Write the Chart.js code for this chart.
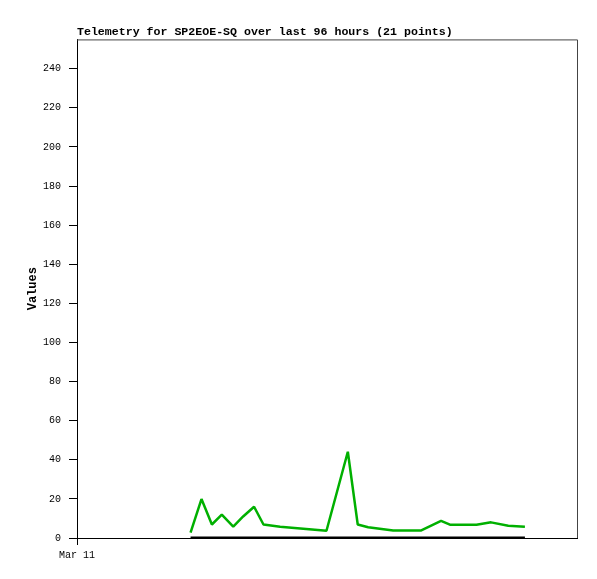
<!DOCTYPE html>
<html>
<head>
<meta charset="utf-8">
<script src="https://cdn.jsdelivr.net/npm/chart.js@4"></script>
<style>
  html, body { margin: 0; padding: 0; background: #fff; }
  #wrap { width: 597px; height: 579px; }
</style>
</head>
<body>
<div id="wrap"><canvas id="c" width="597" height="579"></canvas></div>
<script>
// Hours since Mar 11 00:00 (axis spans 96 hours)
const hours = [21.8, 23.9, 25.9, 27.8, 30.0, 31.9, 34.0, 35.8, 39.0, 47.9, 52.0,
               53.9, 55.9, 60.7, 66.0, 69.9, 71.6, 76.7, 79.5, 82.8, 86.0];
const telemetry = [2.7, 19.9, 6.9, 11.9, 5.8, 11.0, 16.0, 6.9, 5.8, 3.7, 44.1,
                   6.9, 5.5, 3.8, 3.8, 8.8, 6.8, 6.8, 8.0, 6.3, 5.8];
const baseline = [0, 0, 0, 0, 0, 0, 0, 0, 0, 0, 0, 0, 0, 0, 0, 0, 0, 0, 0, 0, 0];
const xTickLabels = ["Mar 11"];
const yTicks = [0, 20, 40, 60, 80, 100, 120, 140, 160, 180, 200, 220, 240];
const titleText = "Telemetry for SP2EOE-SQ over last 96 hours (21 points)";
const yTitle = "Values";

const mono = "'Liberation Mono', 'DejaVu Sans Mono', monospace";

const framePlugin = {
  id: 'frame',
  afterDatasetsDraw(chart) {
    const a = chart.chartArea, ctx = chart.ctx;
    ctx.save();
    ctx.strokeStyle = '#444';
    ctx.lineWidth = 1;
    ctx.beginPath();
    ctx.moveTo(a.left, a.top + 0.5);
    ctx.lineTo(a.right + 0.5, a.top + 0.5);
    ctx.lineTo(a.right + 0.5, a.bottom);
    ctx.stroke();
    ctx.restore();
  }
};

new Chart(document.getElementById('c'), {
  type: 'line',
  data: {
    datasets: [
      {
        label: 'telemetry',
        data: hours.map((h, i) => ({ x: h, y: telemetry[i] })),
        borderColor: '#00b000',
        borderWidth: 2.5,
        borderJoinStyle: 'bevel',
        pointRadius: 0,
        tension: 0,
        fill: false
      },
      {
        label: 'baseline',
        data: hours.map((h, i) => ({ x: h, y: baseline[i] })),
        borderColor: '#000000',
        borderWidth: 3,
        pointRadius: 0,
        tension: 0,
        fill: false
      }
    ]
  },
  options: {
    responsive: false,
    animation: false,
    devicePixelRatio: 1,
    layout: { padding: { left: 0, right: 20, top: 0, bottom: 0 } },
    plugins: {
      legend: { display: false },
      tooltip: { enabled: false },
      title: {
        display: true,
        text: titleText,
        align: 'start',
        fullSize: false,
        color: '#000',
        font: { family: mono, size: 11.6, weight: 'bold', lineHeight: 1.2 },
        padding: { top: 25, bottom: 0.5 }
      }
    },
    scales: {
      x: {
        type: 'linear',
        min: 0,
        max: 96,
        afterFit(s) { s.height = 41; },
        afterBuildTicks(s) { s.ticks = [{ value: 0 }]; },
        ticks: {
          callback: (v, i) => xTickLabels[i] || '',
          color: '#000',
          font: { family: mono, size: 10 },
          padding: 4,
          maxRotation: 0,
          autoSkip: false
        },
        grid: { drawOnChartArea: false, drawTicks: true, tickLength: 7, color: '#000' },
        border: { color: '#000', width: 1 }
      },
      y: {
        type: 'linear',
        min: 0,
        max: 255,
        afterFit(s) { s.width = 77; },
        afterBuildTicks(s) { s.ticks = yTicks.map(v => ({ value: v })); },
        ticks: {
          color: '#000',
          font: { family: mono, size: 10 },
          padding: 8
        },
        grid: { drawOnChartArea: false, drawTicks: true, tickLength: 8, color: '#000' },
        border: { color: '#000', width: 1 },
        title: {
          display: true,
          text: yTitle,
          color: '#000',
          font: { family: mono, size: 12, weight: 'bold', lineHeight: 1.2 },
          padding: { top: 26, bottom: 0 }
        }
      }
    }
  },
  plugins: [framePlugin]
});
</script>
</body>
</html>
